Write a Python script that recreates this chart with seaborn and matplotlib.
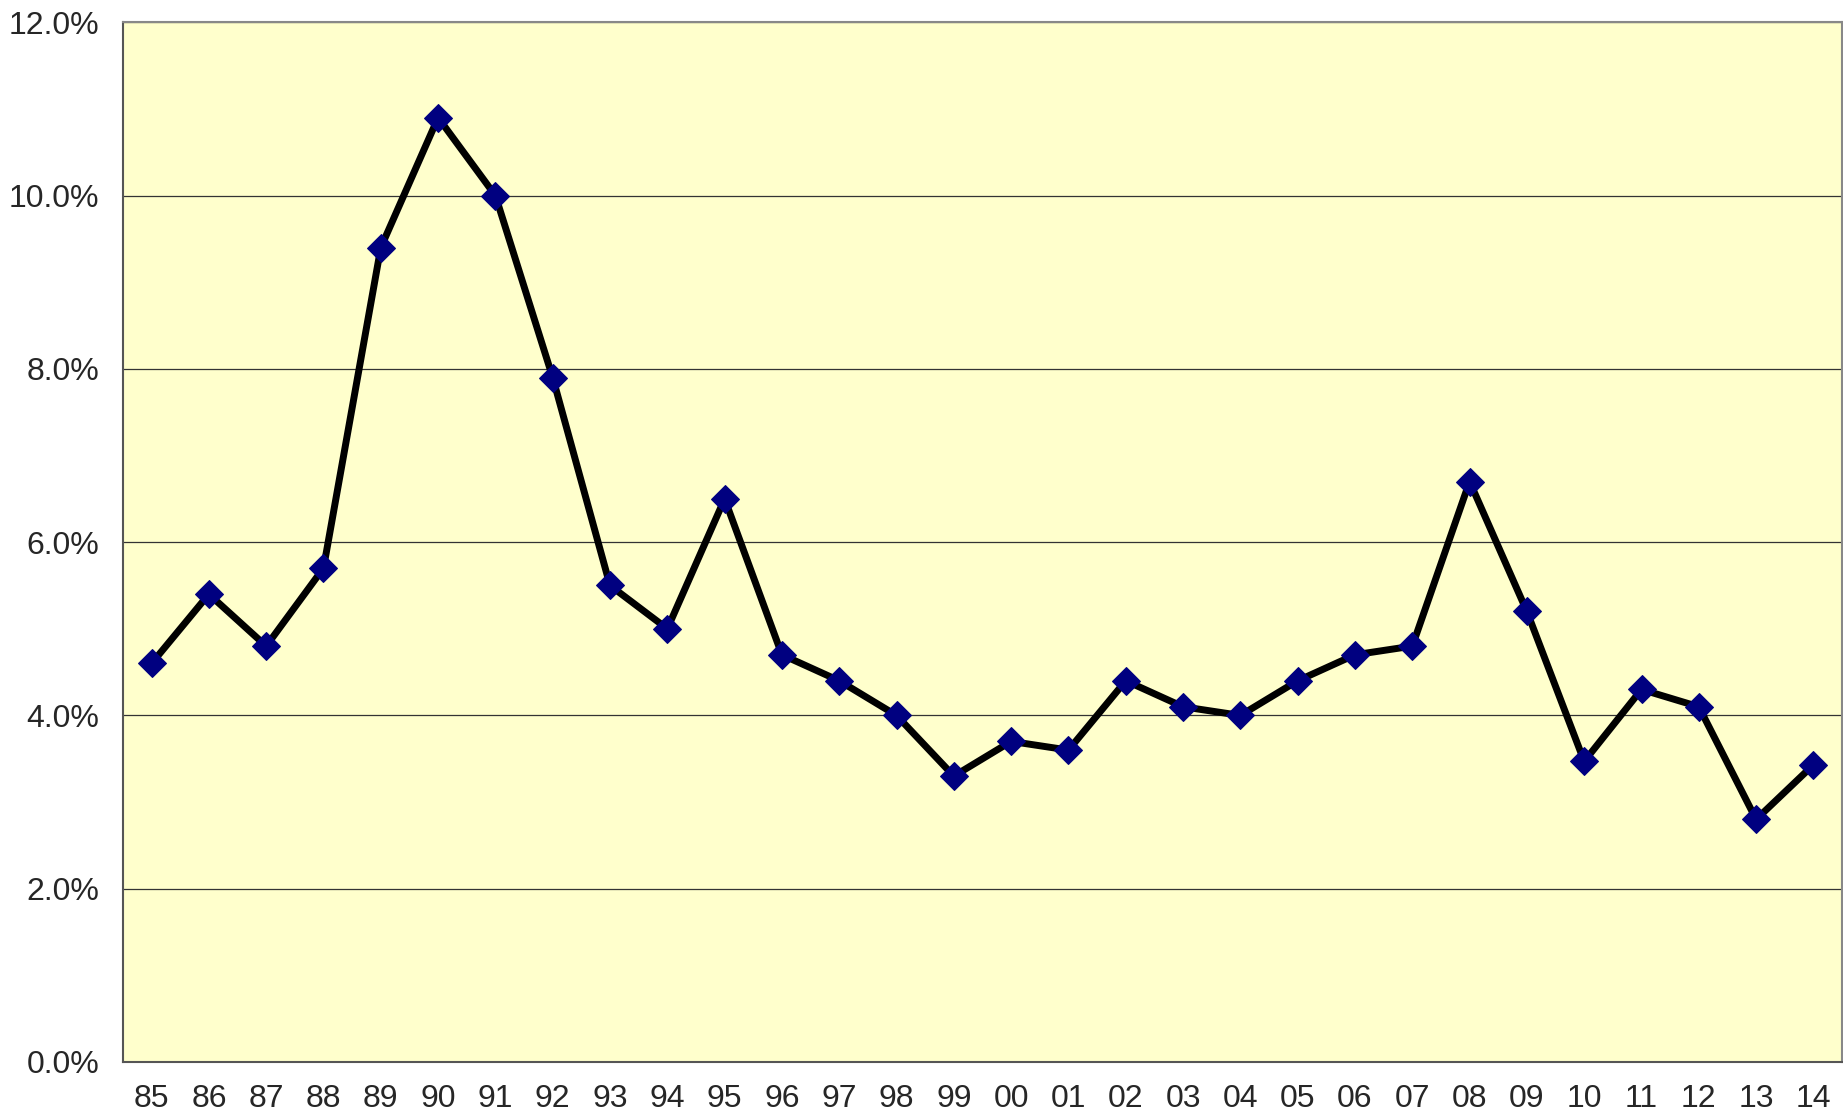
import matplotlib
matplotlib.use("Agg")
import matplotlib.pyplot as plt
import numpy as np
import pandas as pd
import seaborn as sns
from matplotlib.ticker import FixedLocator, PercentFormatter

years = ["85", "86", "87", "88", "89", "90", "91", "92", "93", "94",
         "95", "96", "97", "98", "99", "00", "01", "02", "03", "04",
         "05", "06", "07", "08", "09", "10", "11", "12", "13", "14"]
rates = [4.6, 5.4, 4.8, 5.7, 9.4, 10.9, 10.0, 7.9, 5.5, 5.0,
         6.5, 4.7, 4.4, 4.0, 3.3, 3.7, 3.6, 4.4, 4.1, 4.0,
         4.4, 4.7, 4.8, 6.7, 5.2, 3.47, 4.3, 4.1, 2.8, 3.43]
y_ticks = [0, 2, 4, 6, 8, 10, 12]

df = pd.DataFrame({"year": years, "rate": rates})

sns.set_style("white")
plt.rcParams["font.family"] = ["Liberation Sans", "DejaVu Sans"]

fig = plt.figure(figsize=(18.43, 11.16), dpi=100)
ax = fig.add_axes([0.0667, 0.0484, 0.9328, 0.9316])
ax.set_facecolor("#FFFFCC")

ax.grid(axis="y", color="#333333", linewidth=0.9)
ax.set_axisbelow(True)

sns.lineplot(data=df, x="year", y="rate", sort=False, ax=ax,
             color="black", linewidth=5, marker="D", markersize=14,
             markerfacecolor="#000080", markeredgecolor="#000080")

ax.set_xlim(-0.5, len(years) - 0.5)
ax.set_ylim(0, 12)
ax.set_yticks(y_ticks)
ax.yaxis.set_major_formatter(PercentFormatter(decimals=1))
ax.set_xticks(range(len(years)))
ax.set_xticklabels(years)
ax.xaxis.set_minor_locator(FixedLocator(np.arange(-0.5, len(years), 1.0)))
ax.tick_params(axis="x", which="major", length=0, pad=16, labelsize=23)
ax.tick_params(axis="x", which="minor", length=7, width=1.2, color="#555555", direction="out")
ax.tick_params(axis="y", length=7, width=1.2, color="#555555", direction="out", labelsize=23, pad=10)
ax.set_xlabel("")
ax.set_ylabel("")

for side in ["left", "bottom"]:
    ax.spines[side].set_color("#555555")
    ax.spines[side].set_linewidth(1.5)
for side in ["top", "right"]:
    ax.spines[side].set_color("#888888")
    ax.spines[side].set_linewidth(1.5)

fig.savefig("out.png", dpi=100)
